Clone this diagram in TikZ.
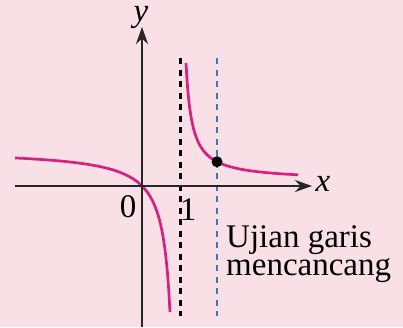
\documentclass[tikz,border=0pt]{standalone}
\usepackage{fontspec}
\setmainfont{Liberation Serif}
\usetikzlibrary{arrows.meta}
\definecolor{bgpink}{HTML}{F8E0E6}
\definecolor{curvemag}{HTML}{D9207E}
\definecolor{testblue}{HTML}{3C78B8}
\begin{document}
\begin{tikzpicture}[x=1pt,y=-1pt,
  axis/.style={line width=2.4pt,black!85,-{Stealth[length=17pt,width=12pt]}},
  curve/.style={line width=2.7pt,curvemag},
  asym/.style={line width=3pt,black,dash pattern=on 6pt off 5.5pt},
  testline/.style={line width=2.4pt,testblue,dash pattern=on 6pt off 5.5pt},
  lbl/.style={font=\fontsize{33}{28}\selectfont,inner sep=0pt}]
\fill[bgpink] (0,0) rectangle (403,327);
\useasboundingbox (0,0) rectangle (403,327);
% curve branches
\draw[curve] plot[domain=15:170,samples=120] (\x,{186-36*(\x-142)/(\x-178)});
\draw[curve] plot[domain=186:298,samples=120] (\x,{186-5.2-706.5/(\x-180)});
% asymptote and test line
\coordinate (at) at (180,58);
\coordinate (ab) at (180,316);
\coordinate (tt) at (217,58);
\coordinate (tb) at (217,316);
\draw[asym] (at) -- (ab);
\draw[testline] (tt) -- (tb);
% axes
\coordinate (xs) at (15,186);
\coordinate (xe) at (312,186);
\coordinate (ys) at (142,327);
\coordinate (ye) at (142,27);
\draw[axis] (xs) -- (xe);
\draw[axis] (ys) -- (ye);
% point
\fill[black] (217,161.7) circle (5.5pt) coordinate (pt);
% labels
\node[lbl] (ylab) at (141,17) {\itshape y};
\node[lbl] (xlab) at (323,184) {\itshape x};
\node[lbl] (zero) at (128,207) {0};
\node[lbl] (one) at (188,210) {1};
\node[lbl,anchor=base west] (t1) at (226,247) {Ujian garis};
\node[lbl,anchor=base west] (t2) at (226,275) {mencancang};
\end{tikzpicture}
\end{document}
